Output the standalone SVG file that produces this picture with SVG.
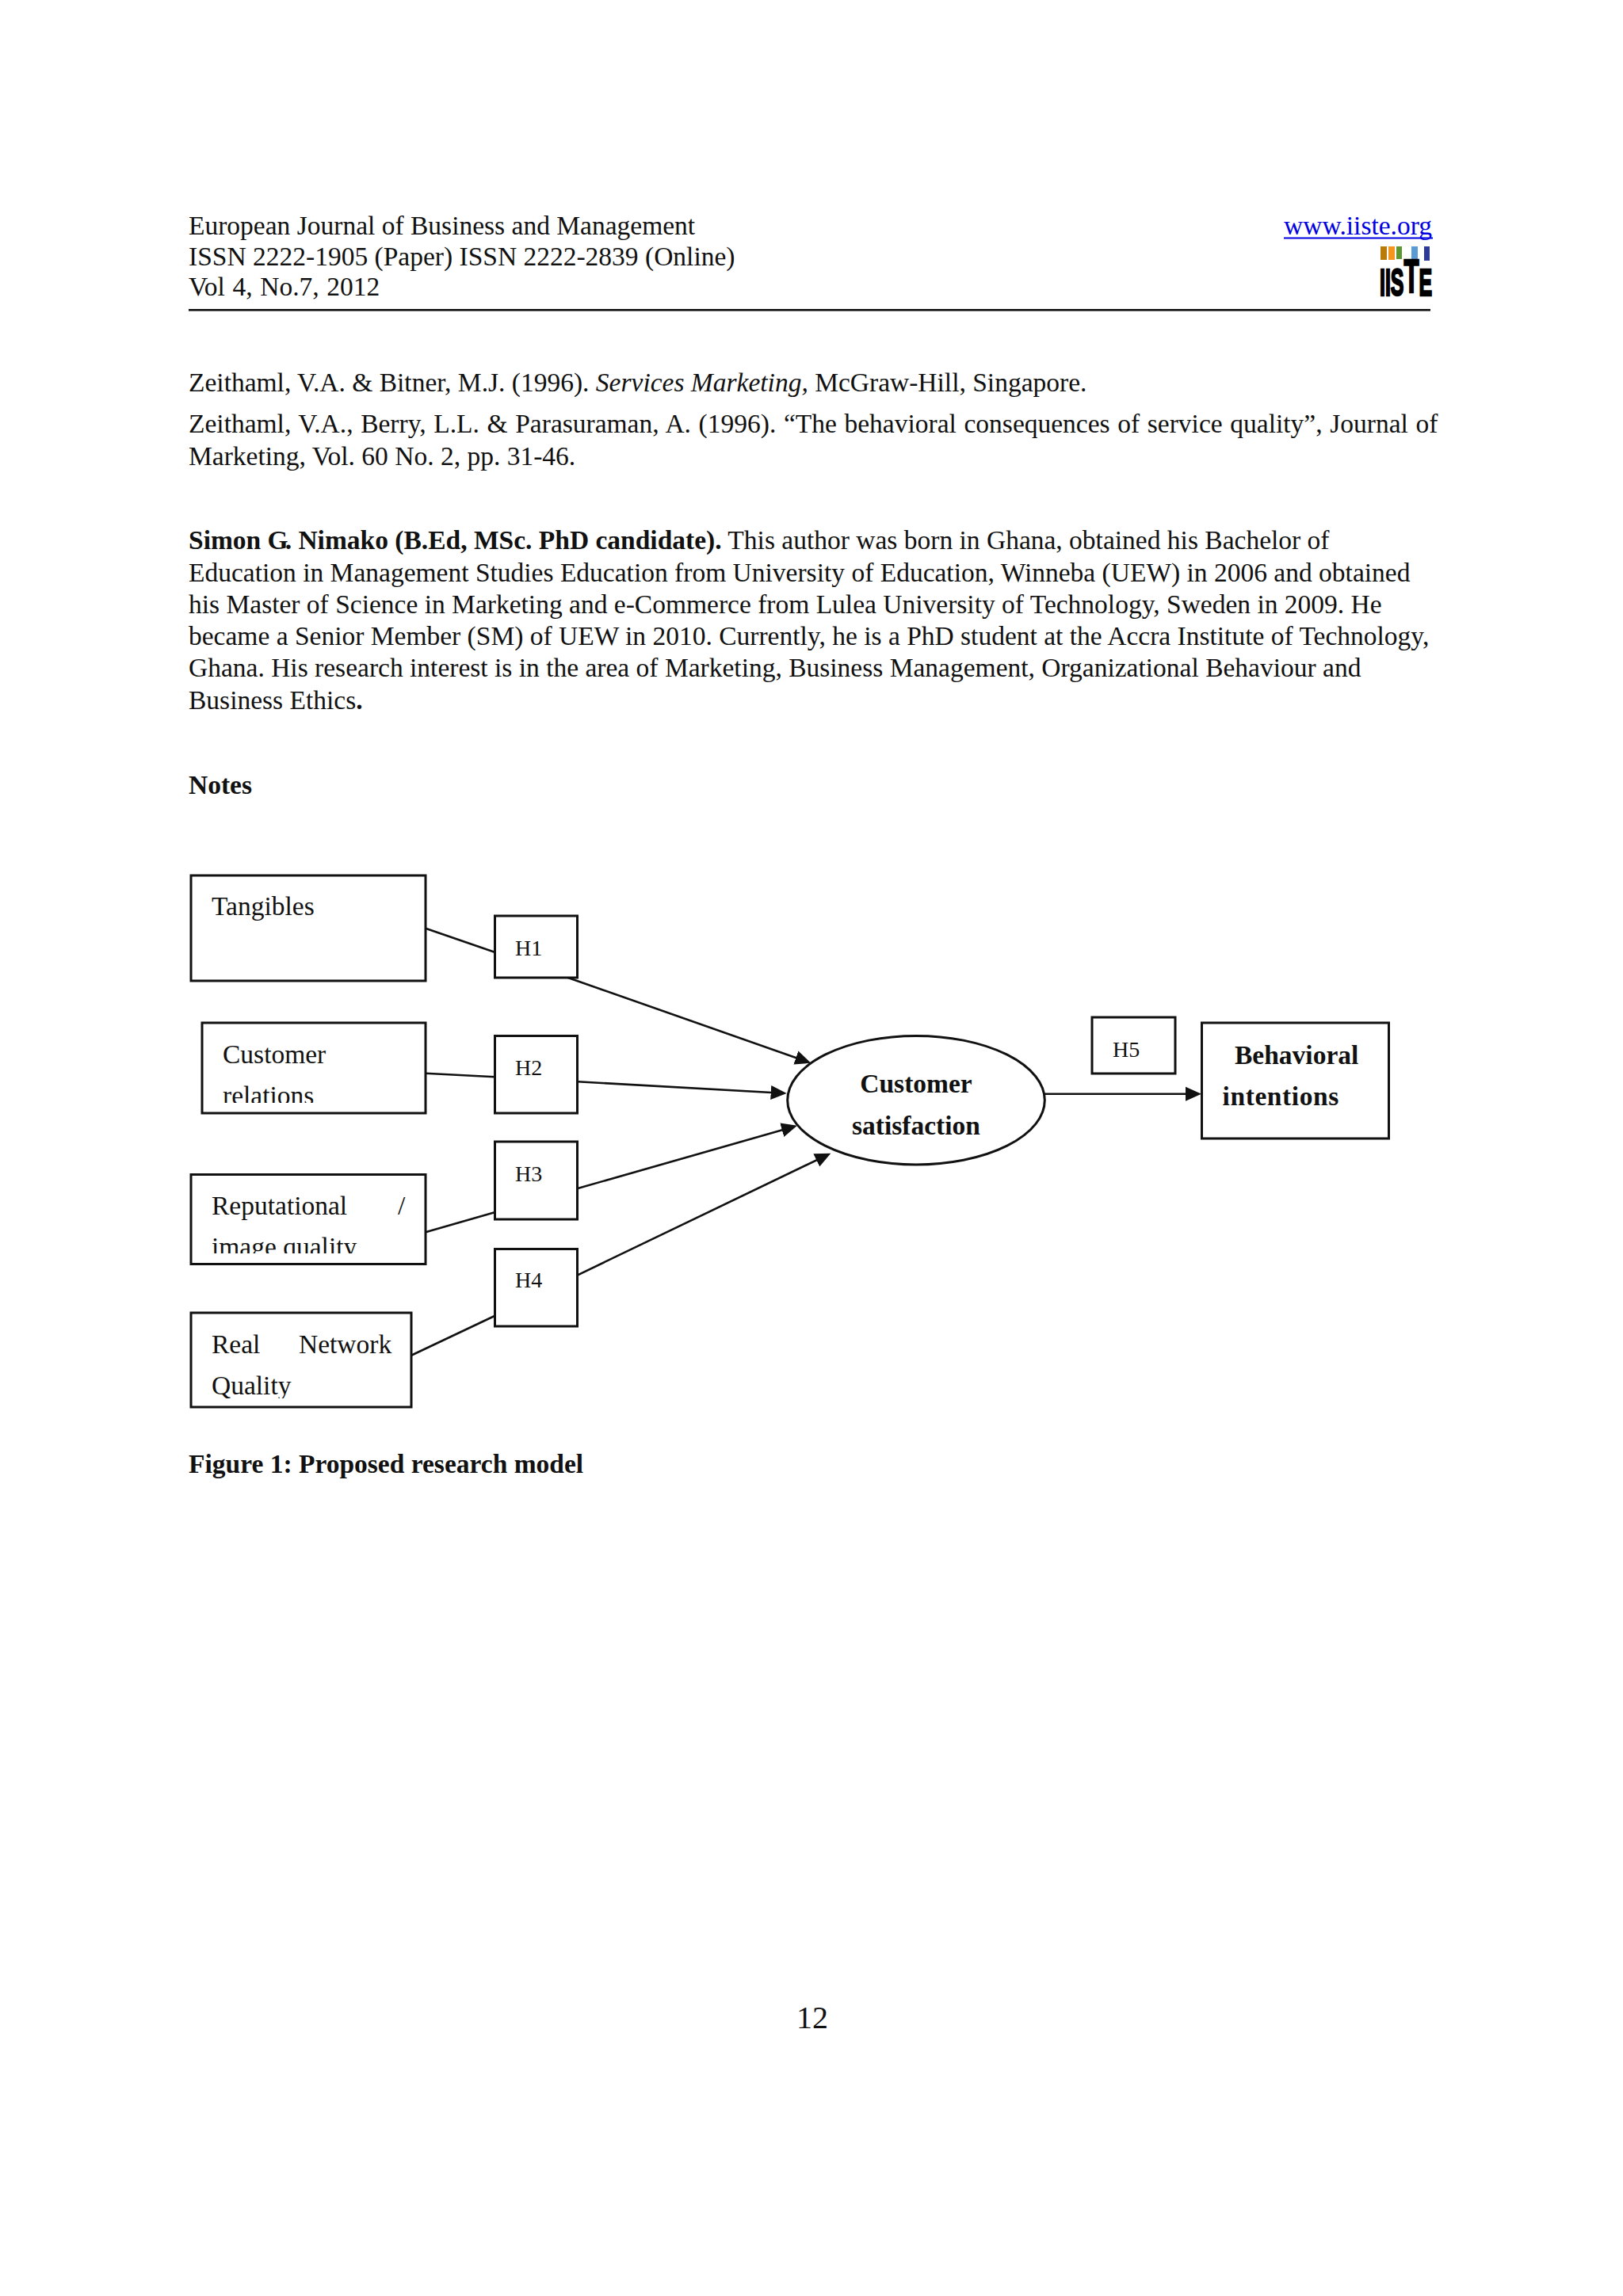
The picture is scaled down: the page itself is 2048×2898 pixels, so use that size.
<svg xmlns="http://www.w3.org/2000/svg" width="2048" height="2898" viewBox="0 0 2048 2898">
<style>
text{font-family:"Liberation Serif","Times New Roman",serif;font-size:33.5px;fill:#111}
.b{font-weight:bold}
.h{font-size:28px}
.box{fill:#fff;stroke:#111;stroke-width:3}
.c{fill:none;stroke:#111;stroke-width:2.6}
</style>
<defs>
<marker id="arrow" markerUnits="userSpaceOnUse" markerWidth="24" markerHeight="24" refX="14" refY="10" orient="auto">
<path d="M0,1 L20,10 L0,19 Z" fill="#111"/>
</marker>
<clipPath id="clipCust"><rect x="240" y="1292" width="295" height="100"/></clipPath>
<clipPath id="clipRep"><rect x="240" y="1484" width="295" height="98"/></clipPath>
<clipPath id="clipReal"><rect x="240" y="1658" width="278" height="107"/></clipPath>
</defs>
<rect width="2048" height="2898" fill="#fff"/>
<g id="header">
<text x="238" y="296">European Journal of Business and Management</text>
<text x="238" y="334.5">ISSN 2222-1905 (Paper) ISSN 2222-2839 (Online)</text>
<text x="238" y="372.5" word-spacing="1.2">Vol 4, No.7, 2012</text>
<text x="1620" y="296" style="fill:#0000e0">www.iiste.org</text>
<rect x="1620" y="299.5" width="188" height="2" fill="#0000e0"/>
<rect x="238" y="390" width="1567" height="2.6" fill="#111"/>
</g>
<g id="logo">
<rect x="1742" y="311" width="8" height="17" fill="#b97a0a"/>
<rect x="1752" y="311" width="8" height="17" fill="#f7941d"/>
<rect x="1762" y="311" width="7" height="16" fill="#5e9732"/>
<rect x="1781" y="311" width="8" height="16" fill="#5b9bd5"/>
<rect x="1797" y="311" width="7" height="18" fill="#2e3a98"/>
<text transform="translate(1741,373) scale(.52,1)" style="font-family:'Liberation Sans',Arial,sans-serif;font-weight:bold;font-size:48px;fill:#000;stroke:#000;stroke-width:2.5">IIS<tspan dy="-4" style="font-size:60px">T</tspan><tspan dy="4">E</tspan></text>
</g>
<g id="body">
<text x="238" y="493.5">Zeithaml, V.A. &amp; Bitner, M.J. (1996). <tspan font-style="italic">Services Marketing,</tspan> McGraw-Hill, Singapore.</text>
<text x="238" y="546" word-spacing="1.25">Zeithaml, V.A., Berry, L.L. &amp; Parasuraman, A. (1996). “The behavioral consequences of service quality”, Journal of</text>
<text x="238" y="587">Marketing, Vol. 60 No. 2, pp. 31-46.</text>
<text x="238" y="693"><tspan class="b">Simon G<tspan dx="-4">.</tspan> Nimako (B.Ed, MSc. PhD candidate).</tspan> This author was born in Ghana, obtained his Bachelor of</text>
<text x="238" y="734">Education in Management Studies Education from University of Education, Winneba (UEW) in 2006 and obtained</text>
<text x="238" y="774">his Master of Science in Marketing and e-Commerce from Lulea University of Technology, Sweden in 2009. He</text>
<text x="238" y="814">became a Senior Member (SM) of UEW in 2010. Currently, he is a PhD student at the Accra Institute of Technology,</text>
<text x="238" y="854">Ghana. His research interest is in the area of Marketing, Business Management, Organizational Behaviour and</text>
<text x="238" y="895">Business Ethics<tspan class="b">.</tspan></text>
<text x="238" y="1002" class="b">Notes</text>
<text x="238" y="1859" class="b">Figure 1: Proposed research model</text>
<text x="1005" y="2560" style="font-size:40px">12</text>
</g>
<g id="connectors">
<path class="c" d="M537,1171.7 L624,1201.7"/>
<path class="c" d="M537,1354.7 L624,1359.3"/>
<path class="c" d="M537,1555.3 L624,1530.3"/>
<path class="c" d="M519,1710.7 L624,1661"/>
<path class="c" marker-end="url(#arrow)" d="M716,1233.7 L1017.6,1339.7"/>
<path class="c" marker-end="url(#arrow)" d="M729,1365.3 L986.7,1379.7"/>
<path class="c" marker-end="url(#arrow)" d="M729,1500 L1000.2,1422.4"/>
<path class="c" marker-end="url(#arrow)" d="M729,1609.3 L1042.9,1458.3"/>
<path class="c" marker-end="url(#arrow)" d="M1318,1380.7 L1510,1380.7"/>
</g>
<g id="tangibles"><rect class="box" x="241" y="1105" width="296" height="133"/><text x="267" y="1155">Tangibles</text></g>
<g id="customer-relations"><rect class="box" x="255" y="1291" width="282" height="114"/><g clip-path="url(#clipCust)"><text x="281" y="1342">Customer</text><text x="281" y="1394">relations</text></g></g>
<g id="reputational"><rect class="box" x="241" y="1482.5" width="296" height="113"/><g clip-path="url(#clipRep)"><text x="267" y="1533">Reputational</text><text x="502" y="1533">/</text><text x="267" y="1585">image quality</text></g></g>
<g id="real-network"><rect class="box" x="241" y="1657" width="278" height="119"/><g clip-path="url(#clipReal)"><text x="267" y="1708">Real</text><text x="377" y="1708">Network</text><text x="267" y="1760">Quality</text></g></g>
<g id="h1"><rect class="box" x="624.5" y="1156" width="104" height="78"/><text class="h" x="650" y="1206">H1</text></g>
<g id="h2"><rect class="box" x="624.5" y="1307.5" width="104" height="97.5"/><text class="h" x="650" y="1357">H2</text></g>
<g id="h3"><rect class="box" x="624.5" y="1441" width="104" height="98"/><text class="h" x="650" y="1491">H3</text></g>
<g id="h4"><rect class="box" x="624.5" y="1576.5" width="104" height="97.5"/><text class="h" x="650" y="1625">H4</text></g>
<g id="h5"><rect class="box" x="1378" y="1284" width="105" height="71"/><text class="h" x="1404" y="1334">H5</text></g>
<g id="customer-satisfaction"><ellipse class="box" cx="1156" cy="1388.7" rx="162.3" ry="81.3"/><text class="b" x="1156" y="1379" text-anchor="middle">Customer</text><text class="b" x="1156" y="1431.5" text-anchor="middle">satisfaction</text></g>
<g id="behavioral-intentions"><rect class="box" x="1516.5" y="1291" width="236" height="146"/><text class="b" x="1558" y="1343">Behavioral</text><text class="b" x="1542.5" y="1395" letter-spacing=".6">intentions</text></g>
</svg>
